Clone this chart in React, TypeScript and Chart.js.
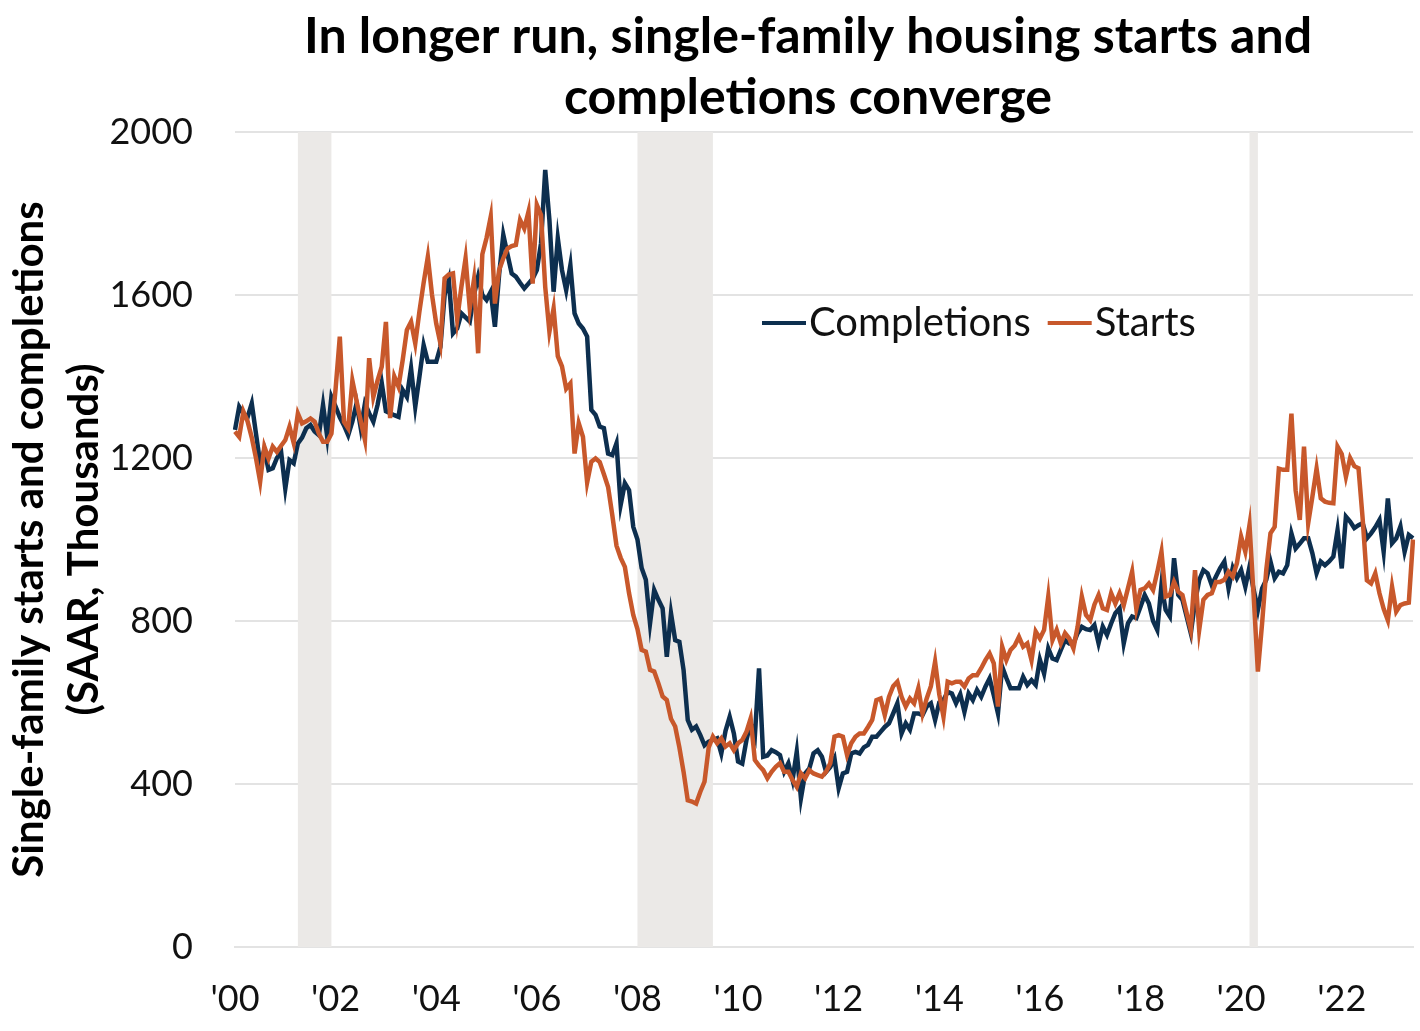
import React, { useEffect, useRef } from 'react';
import { Chart, registerables } from 'chart.js';

Chart.register(...registerables);

// Monthly categories, Jan 2000 - Jun 2023
const months: string[] = [];
for (let y = 2000; y <= 2023; y++) {
  for (let m = 1; m <= 12; m++) {
    if (y === 2023 && m > 6) break;
    months.push(`${y}-${String(m).padStart(2, '0')}`);
  }
}

const xTickLabels = ["'00", "'02", "'04", "'06", "'08", "'10", "'12", "'14", "'16", "'18", "'20", "'22"];
const yTicks = [0, 400, 800, 1200, 1600, 2000];
const titleLines = ['In longer run, single-family housing starts and', 'completions converge'];

// Single-family completions (SAAR, thousands)
const completions = [
  1269, 1326, 1309, 1300, 1334, 1260, 1187, 1220, 1171, 1175, 1200, 1215, // 2000
  1125, 1195, 1187, 1236, 1250, 1273, 1281, 1265, 1256, 1330, 1252, 1350, // 2001
  1326, 1300, 1280, 1256, 1290, 1334, 1273, 1334, 1310, 1289, 1330, 1384, // 2002
  1315, 1310, 1305, 1301, 1367, 1350, 1420, 1326, 1400, 1477, 1436, 1436, // 2003
  1436, 1473, 1600, 1637, 1506, 1518, 1555, 1545, 1535, 1600, 1645, 1600, // 2004
  1588, 1608, 1522, 1650, 1748, 1700, 1653, 1645, 1630, 1616, 1628, 1640, // 2005
  1661, 1727, 1907, 1784, 1608, 1739, 1661, 1612, 1673, 1555, 1530, 1518, // 2006
  1498, 1318, 1306, 1277, 1273, 1211, 1207, 1236, 1085, 1138, 1121, 1031, // 2007
  1000, 930, 901, 794, 876, 852, 831, 712, 819, 753, 749, 680, // 2008
  557, 533, 541, 520, 495, 504, 508, 512, 475, 530, 565, 524, // 2009
  455, 450, 508, 549, 516, 684, 467, 470, 483, 478, 471, 430, // 2010
  451, 410, 479, 365, 426, 438, 475, 483, 467, 430, 442, 463, // 2011
  390, 426, 430, 475, 479, 475, 490, 496, 516, 516, 528, 540, // 2012
  549, 573, 598, 524, 549, 533, 573, 573, 569, 590, 598, 557, // 2013
  600, 606, 626, 622, 598, 620, 577, 622, 606, 631, 614, 639, // 2014
  659, 618, 573, 688, 660, 635, 635, 635, 663, 643, 655, 643, // 2015
  705, 671, 733, 708, 704, 729, 753, 745, 745, 770, 786, 780, // 2016
  778, 790, 745, 786, 766, 794, 819, 831, 745, 794, 811, 807, // 2017
  835, 864, 843, 800, 778, 888, 827, 811, 954, 864, 852, 811, // 2018
  770, 847, 900, 925, 917, 888, 909, 930, 946, 880, 930, 905, // 2019
  925, 884, 933, 876, 827, 880, 901, 946, 905, 921, 917, 937, // 2020
  1015, 978, 990, 1003, 1003, 966, 917, 946, 937, 946, 958, 1023, // 2021
  929, 1056, 1044, 1028, 1035, 1040, 1003, 1015, 1030, 1048, 970, 1101, // 2022
  991, 1003, 1032, 970, 1011, 1003, // 2023
];

// Single-family starts (SAAR, thousands)
const starts = [
  1265, 1252, 1314, 1290, 1250, 1200, 1142, 1228, 1199, 1228, 1215, 1230, // 2000
  1244, 1277, 1237, 1309, 1285, 1290, 1297, 1289, 1260, 1240, 1240, 1260, // 2001
  1370, 1498, 1289, 1273, 1390, 1340, 1290, 1244, 1445, 1350, 1390, 1424, // 2002
  1534, 1298, 1400, 1375, 1440, 1514, 1534, 1481, 1560, 1630, 1694, 1600, // 2003
  1530, 1481, 1641, 1650, 1653, 1540, 1620, 1690, 1567, 1637, 1457, 1700, // 2004
  1740, 1792, 1579, 1661, 1690, 1714, 1720, 1723, 1784, 1763, 1804, 1628, // 2005
  1821, 1796, 1620, 1510, 1567, 1450, 1425, 1370, 1383, 1211, 1285, 1252, // 2006
  1140, 1191, 1199, 1190, 1160, 1129, 1060, 985, 955, 933, 868, 815, // 2007
  780, 729, 725, 680, 676, 647, 615, 606, 560, 541, 490, 430, // 2008
  360, 357, 352, 381, 406, 490, 516, 500, 512, 492, 500, 483, // 2009
  500, 508, 528, 561, 459, 445, 434, 414, 430, 442, 451, 430, // 2010
  430, 410, 393, 426, 414, 434, 426, 422, 418, 430, 451, 516, // 2011
  520, 516, 471, 500, 516, 524, 524, 540, 557, 606, 610, 569, // 2012
  614, 640, 651, 614, 590, 610, 598, 635, 573, 610, 640, 700, // 2013
  620, 565, 651, 647, 651, 651, 639, 659, 667, 667, 684, 704, // 2014
  720, 696, 590, 737, 704, 729, 740, 761, 737, 745, 704, 774, // 2015
  757, 778, 860, 753, 778, 745, 770, 757, 733, 786, 860, 815, // 2016
  802, 840, 864, 831, 827, 868, 843, 868, 839, 880, 921, 830, // 2017
  876, 880, 892, 876, 920, 970, 860, 864, 896, 872, 864, 820, // 2018
  778, 925, 778, 852, 864, 868, 896, 896, 901, 921, 909, 942, // 2019
  1007, 970, 1036, 860, 676, 794, 925, 1015, 1031, 1174, 1171, 1171, // 2020
  1309, 1121, 1048, 1228, 1040, 1105, 1174, 1101, 1093, 1090, 1089, 1228, // 2021
  1210, 1154, 1200, 1180, 1175, 1050, 900, 892, 917, 868, 830, 802, // 2022
  884, 823, 839, 843, 845, 1000, // 2023
];

// Recession shading (first and last month of shaded band)
const recessions: [string, string][] = [
  ['2001-04', '2001-12'],
  ['2008-01', '2009-07'],
  ['2020-03', '2020-05'],
];

const COMPLETIONS_COLOR = '#0d2f4f';
const STARTS_COLOR = '#c8582b';
const SHADE_COLOR = '#ebe9e7';
const FONT = 'Lato, "Open Sans", sans-serif';

const shadePlugin = {
  id: 'recessionShade',
  beforeDatasetsDraw(chart: any) {
    const { ctx, chartArea, scales } = chart;
    ctx.save();
    ctx.fillStyle = SHADE_COLOR;
    recessions.forEach(([a, b]) => {
      const x1 = scales.x.getPixelForValue(months.indexOf(a));
      const x2 = scales.x.getPixelForValue(months.indexOf(b));
      ctx.fillRect(x1, chartArea.top, x2 - x1, chartArea.bottom - chartArea.top);
    });
    ctx.restore();
  },
};

const titlePlugin = {
  id: 'customTitle',
  afterDraw(chart: any) {
    const { ctx, chartArea } = chart;
    const cx = chartArea.left + 573;
    ctx.save();
    ctx.font = `bold 50px ${FONT}`;
    ctx.fillStyle = '#000';
    ctx.textAlign = 'center';
    ctx.textBaseline = 'middle';
    titleLines.forEach((line, i) => {
      ctx.fillText(line, cx, 37 + i * 61);
    });
    ctx.restore();
  },
};

const legendPlugin = {
  id: 'insideLegend',
  afterDatasetsDraw(chart: any) {
    const { ctx, chartArea } = chart;
    const y = chartArea.top + 191;
    let x = chartArea.left + 527;
    ctx.save();
    ctx.font = `40px ${FONT}`;
    ctx.textBaseline = 'middle';
    ctx.textAlign = 'left';
    chart.data.datasets.forEach((ds: any) => {
      ctx.strokeStyle = ds.borderColor;
      ctx.lineWidth = 4;
      ctx.beginPath();
      ctx.moveTo(x, y);
      ctx.lineTo(x + 44, y);
      ctx.stroke();
      ctx.fillStyle = '#111';
      ctx.fillText(ds.label, x + 47, y);
      x += 47 + ctx.measureText(ds.label).width + 17;
    });
    ctx.restore();
  },
};

export default function App() {
  const canvasRef = useRef<HTMLCanvasElement | null>(null);

  useEffect(() => {
    document.body.style.margin = '0';
    const canvas = canvasRef.current;
    if (!canvas) return;
    const chart = new Chart(canvas, {
      type: 'line',
      data: {
        labels: months,
        datasets: [
          {
            label: 'Completions',
            data: completions,
            borderColor: COMPLETIONS_COLOR,
            backgroundColor: COMPLETIONS_COLOR,
            borderWidth: 4.5,
            pointRadius: 0,
            tension: 0,
            order: 2,
          },
          {
            label: 'Starts',
            data: starts,
            borderColor: STARTS_COLOR,
            backgroundColor: STARTS_COLOR,
            borderWidth: 4.5,
            pointRadius: 0,
            tension: 0,
            order: 1,
          },
        ],
      },
      options: {
        animation: false,
        responsive: false,
        devicePixelRatio: 1,
        layout: { padding: { left: 0, right: 7, top: 132, bottom: 0 } },
        plugins: {
          legend: { display: false },
          tooltip: { enabled: false },
          title: { display: false },
        },
        scales: {
          x: {
            type: 'category',
            grid: { display: false, drawTicks: false },
            border: { display: true, color: '#e3e3e3', width: 2 },
            ticks: {
              autoSkip: false,
              maxRotation: 0,
              minRotation: 0,
              padding: 31,
              color: '#111',
              font: { family: FONT, size: 36 },
              callback: (_v: any, idx: number) => {
                const lab = months[idx];
                const yr = parseInt(lab.slice(0, 4), 10);
                if (lab.endsWith('-01') && yr % 2 === 0) return xTickLabels[(yr - 2000) / 2];
                return null;
              },
            },
            afterFit: (scale: any) => {
              scale.height = 84;
            },
          },
          y: {
            min: 0,
            max: 2000,
            grid: { color: '#e3e3e3', lineWidth: 2, drawTicks: false },
            border: { display: false },
            afterBuildTicks: (scale: any) => {
              scale.ticks = yTicks.map((v) => ({ value: v }));
            },
            ticks: {
              padding: 42,
              color: '#111',
              font: { family: FONT, size: 36 },
              callback: (v: any) => String(v),
            },
            title: {
              display: true,
              text: ['Single-family starts and completions', '(SAAR, Thousands)'],
              color: '#000',
              font: { family: FONT, size: 42, weight: 'bold', lineHeight: '55px' as any },
              padding: { top: 2, bottom: 0 },
            },
            afterFit: (scale: any) => {
              scale.width = 235;
            },
          },
        },
      },
      plugins: [shadePlugin, legendPlugin, titlePlugin],
    });
    return () => chart.destroy();
  }, []);

  return (
    <div style={{ width: 1420, height: 1031, background: '#fff' }}>
      <canvas ref={canvasRef} width={1420} height={1031} style={{ display: 'block' }} />
    </div>
  );
}
